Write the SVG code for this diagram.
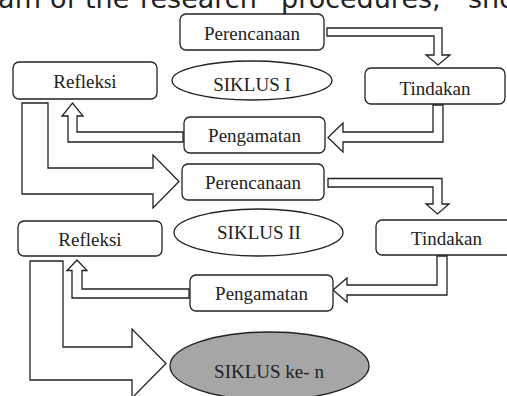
<svg xmlns="http://www.w3.org/2000/svg" width="507" height="396" viewBox="0 0 507 396">
<style>
.box{fill:#fff;stroke:#222;stroke-width:1.3}
.ell{fill:#fff;stroke:#222;stroke-width:1.3}
.gray{fill:#a6a6a6;stroke:#222;stroke-width:1.3}
.arr{fill:#fff;stroke:#222;stroke-width:1.3;stroke-linejoin:miter}
.lbl{font-family:"Liberation Serif","Times New Roman",serif;font-size:19px;fill:#222;text-anchor:middle}
.hdr{font-family:"DejaVu Sans",Verdana,sans-serif;font-size:27px;fill:#222}
</style>
<rect width="507" height="396" fill="#fff"/>
<text class="hdr" y="7.5"><tspan x="-13">ram</tspan><tspan x="50">of</tspan><tspan x="85">the</tspan><tspan x="140">research</tspan><tspan x="281">procedures,</tspan><tspan x="468">sho</tspan></text>
<g id="connectors">
<polygon class="arr" points="327,28 442,28 442,55 450,55 438,65 426,55 434,55 434,36 327,36"/>
<polygon class="arr" points="433,105 443,105 443,142 343,142 343,152 328,137.5 343,123 343,132 433,132"/>
<polygon class="arr" points="183,132 77,132 77,116 83,116 72.5,103 62,116 68,116 68,142 183,142"/>
<polygon class="arr" points="22,103 48,103 48,168 153,168 153,155 179,181.5 153,208 153,194 22,194"/>
<polygon class="arr" points="328,178.5 442,178.5 442,204 449,204 437.5,214 426,204 433,204 433,187 328,187"/>
<polygon class="arr" points="437,256 447,256 447,295 347,295 347,302 333,290 347,278 347,285 437,285"/>
<polygon class="arr" points="189,289 82,289 82,270.5 87,270.5 77,260 67,270.5 72,270.5 72,298 189,298"/>
<polygon class="arr" points="30,261 63,261 63,347 132,347 132,329 166,363.5 132,398 132,380 30,380"/>
</g>
<g id="perencanaan1"><rect class="box" x="180" y="14" width="144" height="36" rx="6"/><text class="lbl" x="252" y="40">Perencanaan</text></g>
<g id="refleksi1"><rect class="box" x="13" y="62" width="144" height="37" rx="6"/><text class="lbl" x="85" y="88">Refleksi</text></g>
<g id="siklus1"><ellipse class="ell" cx="252" cy="80.5" rx="80" ry="19.5"/><text class="lbl" x="252" y="91">SIKLUS I</text></g>
<g id="tindakan1"><rect class="box" x="365" y="68" width="140" height="36" rx="6"/><text class="lbl" x="435" y="94.5">Tindakan</text></g>
<g id="pengamatan1"><rect class="box" x="184" y="117" width="141" height="36" rx="6"/><text class="lbl" x="254.5" y="141.5">Pengamatan</text></g>
<g id="perencanaan2"><rect class="box" x="182" y="164" width="142" height="36" rx="6"/><text class="lbl" x="253" y="188.5">Perencanaan</text></g>
<g id="refleksi2"><rect class="box" x="18" y="221" width="144" height="35" rx="6"/><text class="lbl" x="90" y="246">Refleksi</text></g>
<g id="siklus2"><ellipse class="ell" cx="258.5" cy="232.5" rx="84.5" ry="23.5"/><text class="lbl" x="259" y="238.5">SIKLUS II</text></g>
<g id="tindakan2"><rect class="box" x="376" y="220" width="142" height="35" rx="6"/><text class="lbl" x="446.5" y="245">Tindakan</text></g>
<g id="pengamatan2"><rect class="box" x="190" y="275" width="143" height="36" rx="6"/><text class="lbl" x="261.5" y="300">Pengamatan</text></g>
<g id="siklusn"><ellipse class="gray" cx="269.5" cy="366" rx="99.5" ry="34"/><text class="lbl" x="269" y="378">SIKLUS ke- n</text></g>
</svg>
